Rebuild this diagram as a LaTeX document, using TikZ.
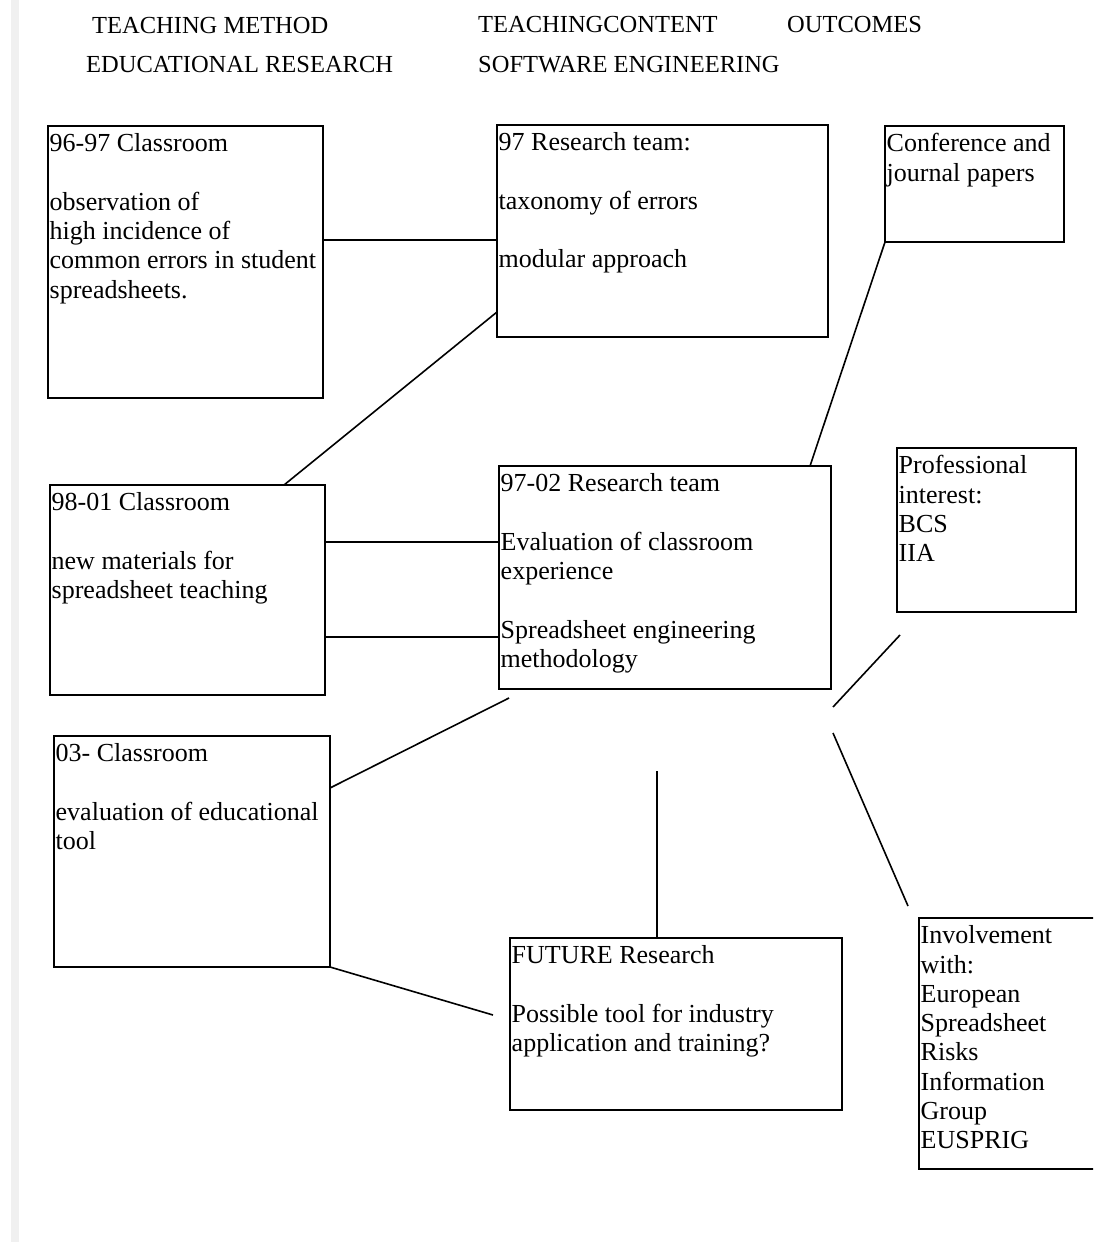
\documentclass[tikz,border=0pt]{standalone}
\usepackage{fontspec}
\setmainfont{Liberation Serif}
\newcommand{\bodyfont}{\fontsize{26}{29.3}\selectfont}
\newcommand{\headfont}{\fontsize{24.5}{29.3}\selectfont}
\begin{document}
\begin{tikzpicture}[x=1pt,y=-1pt,
  box/.style={draw, line width=1.8pt, rectangle, inner sep=0pt, outer sep=0pt, anchor=north west},
  txt/.style={anchor=north west, inner sep=0pt, align=left, font=\bodyfont},
  head/.style={anchor=base west, inner sep=0pt, font=\headfont},
  link/.style={line width=1.6pt}]
\fill[white] (0,0) rectangle (1093,1242);
\useasboundingbox (0,0) rectangle (1093,1242);
\clip (0,0) rectangle (1093,1242);
\fill[black!6] (11,0) rectangle (19,1242);

% headers
\node[head] (h1) at (92,33) {TEACHING METHOD};
\node[head] (h2) at (86,72) {EDUCATIONAL RESEARCH};
\node[head] (h3) at (478,32) {TEACHINGCONTENT};
\node[head] (h4) at (478,72) {SOFTWARE ENGINEERING};
\node[head] (h5) at (787,32) {OUTCOMES};

% boxes
\node[box, minimum width=275pt, minimum height=272pt] (A) at (48,126) {};
\node[box, minimum width=331pt, minimum height=212pt] (B) at (497,125) {};
\node[box, minimum width=179pt, minimum height=116pt] (C) at (885,126) {};
\node[box, minimum width=275pt, minimum height=210pt] (D) at (50,485) {};
\node[box, minimum width=332pt, minimum height=223pt] (E) at (499,466) {};
\node[box, minimum width=179pt, minimum height=164pt] (F) at (897,448) {};
\node[box, minimum width=276pt, minimum height=231pt] (G) at (54,736) {};
\node[box, minimum width=332pt, minimum height=172pt] (H) at (510,938) {};
\node[box, minimum width=181pt, minimum height=251pt] (I) at (919,918) {};

% texts
\node[txt] (At) at ([shift={(1.5pt,-5pt)}]A.north west) {\strut 96-97 Classroom\\[29.3pt] observation of\\ high incidence of\\ common errors in student\\ spreadsheets.};
\node[txt] (Bt) at ([shift={(1.5pt,-5pt)}]B.north west) {\strut 97 Research team:\\[29.3pt] taxonomy of errors\\[29.3pt] modular approach};
\node[txt] (Ct) at ([shift={(1.5pt,-5pt)}]C.north west) {\strut Conference and\\ journal papers};
\node[txt] (Dt) at ([shift={(1.5pt,-5pt)}]D.north west) {\strut 98-01 Classroom\\[29.3pt] new materials for\\ spreadsheet teaching};
\node[txt] (Et) at ([shift={(1.5pt,-5pt)}]E.north west) {\strut 97-02 Research team\\[29.3pt] Evaluation of classroom\\ experience\\[29.3pt] Spreadsheet engineering\\ methodology};
\node[txt] (Ft) at ([shift={(1.5pt,-5pt)}]F.north west) {\strut Professional\\ interest:\\ BCS\\ IIA};
\node[txt] (Gt) at ([shift={(1.5pt,-5pt)}]G.north west) {\strut 03- Classroom\\[29.3pt] evaluation of educational\\ tool};
\node[txt] (Ht) at ([shift={(1.5pt,-5pt)}]H.north west) {\strut FUTURE Research\\[29.3pt] Possible tool for industry\\ application and training?};
\node[txt] (It) at ([shift={(1.5pt,-5pt)}]I.north west) {\strut Involvement\\ with:\\ European\\ Spreadsheet\\ Risks\\ Information\\ Group\\ EUSPRIG};

% free ends
\coordinate (g1) at (509,698);
\coordinate (p1) at (833,707);
\coordinate (p2) at (900,635);
\coordinate (q1) at (833,733);
\coordinate (q2) at (908,906);
\coordinate (v1) at (657,771);
\coordinate (g2) at (493,1015);

% connectors
\draw[link] (A.east |- 0,240) -- (B.west |- 0,240);
\draw[link] (D.north -| 284,0) -- (B.west |- 0,312);
\draw[link] (C.south west) -- (E.north -| 810,0);
\draw[link] (D.east |- 0,542) -- (E.west |- 0,542);
\draw[link] (D.east |- 0,637) -- (E.west |- 0,637);
\draw[link] (G.east |- 0,788) -- (g1);
\draw[link] (p1) -- (p2);
\draw[link] (q1) -- (q2);
\draw[link] (v1) -- (H.north -| v1);
\draw[link] (G.south east) -- (g2);
\end{tikzpicture}
\end{document}
